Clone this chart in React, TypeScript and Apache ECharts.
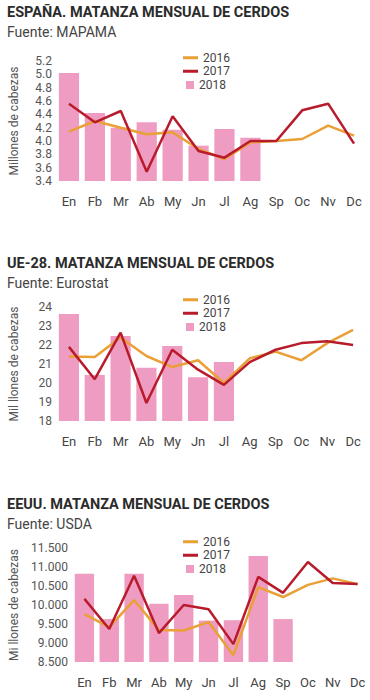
import React, { useEffect, useRef } from "react";
import * as echarts from "echarts";

const months = ["En", "Fb", "Mr", "Ab", "My", "Jn", "Jl", "Ag", "Sp", "Oc", "Nv", "Dc"];

const es2016 = [4.14, 4.3, 4.2, 4.1, 4.13, 3.88, 3.73, 3.98, 4.0, 4.03, 4.23, 4.08];
const es2017 = [4.56, 4.28, 4.45, 3.54, 4.37, 3.85, 3.75, 4.0, 4.0, 4.46, 4.56, 3.96];
const es2018 = [5.02, 4.42, 4.2, 4.28, 4.17, 3.93, 4.18, 4.05];

const ue2016 = [21.4, 21.37, 22.4, 21.42, 20.84, 21.2, 20.0, 21.3, 21.65, 21.2, 22.1, 22.8];
const ue2017 = [21.9, 20.2, 22.65, 18.95, 21.75, 20.7, 19.9, 21.1, 21.75, 22.1, 22.2, 22.0];
const ue2018 = [23.63, 20.42, 22.47, 20.8, 21.95, 20.3, 21.1];

const us2016 = [9760, 9420, 10130, 9340, 9330, 9550, 8680, 10470, 10210, 10530, 10700, 10550];
const us2017 = [10160, 9370, 10770, 9260, 10000, 9890, 8970, 10740, 10320, 11130, 10580, 10550];
const us2018 = [10820, 9630, 10820, 10030, 10260, 9590, 9600, 11290, 9630];

const titles = [
  "ESPAÑA. MATANZA MENSUAL DE CERDOS",
  "UE-28. MATANZA MENSUAL DE CERDOS",
  "EEUU. MATANZA MENSUAL DE CERDOS",
];
const sources = ["Fuente: MAPAMA", "Fuente: Eurostat", "Fuente: USDA"];
const axisNames = ["Millones de cabezas", "Mil llones de cabezas", "Mi llones de cabezas"];

const C16 = "#E9A036";
const C17 = "#B81C2C";
const C18 = "#EF9CC2";
const FONT = "Roboto";

export default function App() {
  const ref = useRef<HTMLDivElement>(null);
  useEffect(() => {
    if (!ref.current) return;
    const chart = echarts.init(ref.current, null, { renderer: "svg" });

    const grids = [
      { left: 43, top: 61, width: 324, height: 120 },
      { left: 43, top: 307, width: 323, height: 114 },
      { left: 60, top: 548, width: 310, height: 114 },
    ];
    const yCfg = [
      { min: 3.4, max: 5.2, interval: 0.2, fmt: (v: number) => v.toFixed(1), gap: 36 },
      { min: 18, max: 24, interval: 1, fmt: (v: number) => String(v), gap: 36 },
      {
        min: 8500,
        max: 11500,
        interval: 500,
        fmt: (v: number) => {
          const s = String(Math.round(v));
          return s.replace(/\B(?=(\d{3})+(?!\d))/g, ".");
        },
        gap: 52,
      },
    ];
    const data = [
      [es2016, es2017, es2018],
      [ue2016, ue2017, ue2018],
      [us2016, us2017, us2018],
    ];
    const titleY = [12, 263, 504];
    const legendTop = [58, 300, 542];

    const series: any[] = [];
    data.forEach((d, i) => {
      series.push({
        name: "2018",
        type: "bar",
        xAxisIndex: i,
        yAxisIndex: i,
        data: d[2],
        barWidth: "78%",
        itemStyle: { color: C18 },
      });
      series.push({
        name: "2016",
        type: "line",
        xAxisIndex: i,
        yAxisIndex: i,
        data: d[0],
        symbol: "none",
        lineStyle: { color: C16, width: 2.5 },
        itemStyle: { color: C16 },
      });
      series.push({
        name: "2017",
        type: "line",
        xAxisIndex: i,
        yAxisIndex: i,
        data: d[1],
        symbol: "none",
        lineStyle: { color: C17, width: 2.5 },
        itemStyle: { color: C17 },
      });
    });

    const legends: any[] = [];
    legendTop.forEach((t) => {
      legends.push({
        orient: "vertical",
        left: 183,
        top: t - 7,
        icon: "rect",
        itemWidth: 15,
        itemHeight: 3,
        itemGap: 0,
        data: ["2016", "2017"],
        textStyle: { fontFamily: FONT, fontSize: 12, color: "#444", lineHeight: 13.5 },
        padding: 0,
        selectedMode: false,
      });
      legends.push({
        orient: "vertical",
        left: 186,
        top: t + 27 - 7,
        icon: "rect",
        itemWidth: 8,
        itemHeight: 8,
        itemGap: 0,
        data: ["2018"],
        textStyle: { fontFamily: FONT, fontSize: 12, color: "#444", lineHeight: 14 },
        padding: 0,
        selectedMode: false,
      });
    });

    const graphic: any[] = [];
    titleY.forEach((y, i) => {
      graphic.push({
        type: "text",
        x: 7,
        y: y,
        style: {
          text: titles[i],
          font: `bold 14.5px ${FONT}`,
          fill: "#2b2b2b",
          textVerticalAlign: "middle",
        },
      });
      graphic.push({
        type: "text",
        x: 7,
        y: y + 20,
        style: {
          text: sources[i],
          font: `14px ${FONT}`,
          fill: "#444",
          textVerticalAlign: "middle",
        },
      });
    });

    chart.setOption({
      animation: false,
      backgroundColor: "#fff",
      grid: grids,
      legend: legends,
      graphic,
      xAxis: grids.map((_, i) => ({
        type: "category",
        gridIndex: i,
        data: months,
        axisLine: { show: false },
        axisTick: { show: false },
        axisLabel: { fontFamily: FONT, fontSize: 13, color: "#444", margin: 14 },
      })),
      yAxis: yCfg.map((c, i) => ({
        type: "value",
        gridIndex: i,
        min: c.min,
        max: c.max,
        interval: c.interval,
        splitLine: { show: false },
        axisLine: { show: false },
        axisTick: { show: false },
        axisLabel: {
          fontFamily: FONT,
          fontSize: 12,
          color: "#555",
          margin: 4,
          formatter: c.fmt,
        },
        name: axisNames[i],
        nameLocation: "middle",
        nameGap: c.gap,
        nameTextStyle: { fontFamily: FONT, fontSize: 12, color: "#555" },
      })),
      series,
    });
    return () => chart.dispose();
  }, []);
  return (
    <div
      ref={ref}
      style={{ position: "fixed", left: 0, top: 0, width: 370, height: 700 }}
    />
  );
}
